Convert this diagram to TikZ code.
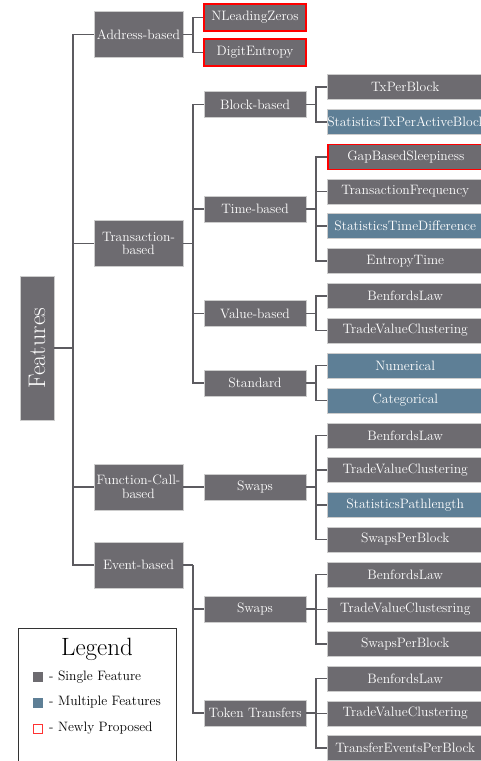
\documentclass[tikz,border=0pt]{standalone}
\usepackage{tikz}
\usetikzlibrary{calc}
\definecolor{featGray}{HTML}{6D6B70}
\definecolor{featBlue}{HTML}{5E7F96}
\definecolor{linkGray}{HTML}{5C5B60}

\tikzset{
  box/.style={fill=featGray, text=white, draw=black!20, line width=0.5pt,
    inner sep=0pt, align=center, font=\fontsize{13.6}{13.6}\selectfont},
  lvlone/.style={box, minimum width=89pt, minimum height=46pt},
  lvltwo/.style={box, minimum width=102pt, minimum height=26pt},
  leaf/.style={box, anchor=west, minimum width=156pt, minimum height=25pt},
  multi/.style={fill=featBlue},
  newly/.style={draw=red, line width=1.6pt},
  link/.style={draw=linkGray, line width=1.6pt},
  keytext/.style={anchor=west, inner sep=0pt, font=\fontsize{13.6}{13.6}\selectfont}
}

\begin{document}
\begin{tikzpicture}[x=1pt,y=-1pt]
  \useasboundingbox (0,0) rectangle (481,761);

  % root
  \node[box, minimum width=34pt, minimum height=144pt] (feat) at (37,348) {};
  \node[rotate=90, text=white, font=\fontsize{24}{24}\selectfont] (featlabel) at (feat) {Features};

  % first level
  \node[lvlone] (addr)  at (138.5,34.5) {Address-based};
  \node[lvlone] (trans) at (138.5,243.5) {Transaction-\\based};
  \node[lvlone] (func)  at (138.5,487) {Function-Call-\\based};
  \node[lvlone] (event) at (138.5,565) {Event-based};

  % address children
  \node[box, newly, minimum width=102pt, minimum height=27pt] (nlz) at (255,17.5) {NLeadingZeros};
  \node[box, newly, minimum width=102pt, minimum height=27pt] (digent) at (255,52.5) {DigitEntropy};

  % second level
  \node[lvltwo] (block)  at (255,104.5) {Block-based};
  \node[lvltwo] (time)   at (255,209)   {Time-based};
  \node[lvltwo] (value)  at (255,313.5) {Value-based};
  \node[lvltwo] (std)    at (255,383)   {Standard};
  \node[lvltwo] (fswaps) at (255,487)   {Swaps};
  \node[lvltwo] (eswaps) at (255,609)   {Swaps};
  \node[lvltwo] (token)  at (255,713)   {Token Transfers};

  % leaves
  \node[leaf] (txblock)   at (327,87)    {TxPerBlock};
  \node[leaf, multi] (txactive) at (327,122) {StatisticsTxPerActiveBlock};
  \node[leaf, newly] (gapsleep) at (327,157) {GapBasedSleepiness};
  \node[leaf] (txfreq)    at (327,191.5) {TransactionFrequency};
  \node[leaf, multi] (timediff) at (327,226) {StatisticsTimeDifference};
  \node[leaf] (enttime)   at (327,261)   {EntropyTime};
  \node[leaf] (vbenford)  at (327,296)   {BenfordsLaw};
  \node[leaf] (vcluster)  at (327,330.5) {TradeValueClustering};
  \node[leaf, multi] (numer) at (327,365.5) {Numerical};
  \node[leaf, multi] (categ) at (327,400.5) {Categorical};
  \node[leaf] (fbenford)  at (327,435.5) {BenfordsLaw};
  \node[leaf] (fcluster)  at (327,470)   {TradeValueClustering};
  \node[leaf, multi] (fpath) at (327,505) {StatisticsPathlength};
  \node[leaf] (fperblock) at (327,539.5) {SwapsPerBlock};
  \node[leaf] (ebenford)  at (327,574.5) {BenfordsLaw};
  \node[leaf] (ecluster)  at (327,609.5) {TradeValueClustesring};
  \node[leaf] (eperblock) at (327,644)   {SwapsPerBlock};
  \node[leaf] (tbenford)  at (327,678.5) {BenfordsLaw};
  \node[leaf] (tcluster)  at (327,713.5) {TradeValueClustering};
  \node[leaf] (tperblock) at (327,748)   {TransferEventsPerBlock};

  % brackets
  \draw[link] (feat.east) -- ++(19,0);
  \foreach \kid in {addr,trans,func,event}
    \draw[link] ($(feat.east)+(19,0)$) |- (\kid.west);

  \draw[link] (addr.east) -- ++(10,0);
  \foreach \kid in {nlz,digent}
    \draw[link] ($(addr.east)+(10,0)$) |- (\kid.west);

  \draw[link] (trans.east) -- ++(10,0);
  \foreach \kid in {block,time,value,std}
    \draw[link] ($(trans.east)+(10,0)$) |- (\kid.west);

  \draw[link] (func.east) -- (fswaps.west);

  \draw[link] (event.east) -- ++(10,0);
  \foreach \kid in {eswaps,token}
    \draw[link] ($(event.east)+(10,0)$) |- (\kid.west);

  \foreach \dad/\kids in {block/{txblock,txactive},
      time/{gapsleep,txfreq,timediff,enttime},
      value/{vbenford,vcluster}, std/{numer,categ},
      fswaps/{fbenford,fcluster,fpath,fperblock},
      eswaps/{ebenford,ecluster,eperblock},
      token/{tbenford,tcluster,tperblock}}{
    \draw[link] (\dad.east) -- ++(10,0);
    \foreach \kid in \kids
      \draw[link] ($(\dad.east)+(10,0)$) |- (\kid.west);
  }

  % legend
  \draw[black!80, line width=1pt] (18,775) -- (18,628) -- (176,628) -- (176,775);
  \node[font=\fontsize{25}{25}\selectfont] (legendtitle) at (97,649) {Legend};
  \node[fill=featGray, minimum size=10pt, inner sep=0pt] (keysingle) at (38,677) {};
  \node[fill=featBlue, minimum size=10pt, inner sep=0pt] (keymulti) at (38,702.5) {};
  \node[draw=red!80, line width=0.8pt, minimum size=9pt, inner sep=0pt] (keynew) at (38,728.5) {};
  \node[keytext] (txtsingle) at (49,677) {- Single Feature};
  \node[keytext] (txtmulti) at (49,702.5) {- Multiple Features};
  \node[keytext] (txtnew) at (49,728.5) {- Newly Proposed};
\end{tikzpicture}
\end{document}
